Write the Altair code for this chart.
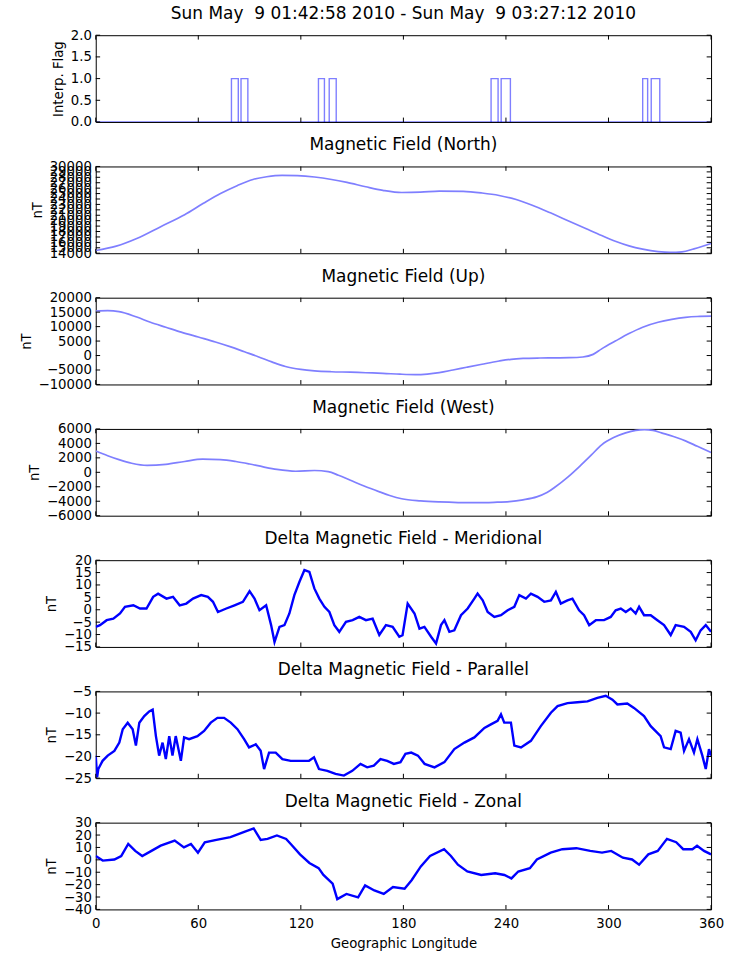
import altair as alt
import pandas as pd

# ---------------------------------------------------------------- data
# Interpolation-flag intervals (longitude where the flag is 1)
flag_start = [79.4, 85.0, 130.3, 136.6, 231.3, 237.2, 320.0, 325.0]
flag_end = [83.4, 89.0, 133.8, 140.7, 235.4, 242.6, 322.9, 330.0]

# Main field, north component (nT)
north_lon = [0, 12, 24, 38, 52, 63, 73, 83, 92, 100, 109, 118, 128, 138, 147,
             158, 168, 179, 190, 201, 215, 226, 236, 246, 255, 266, 277, 287,
             296, 304, 312, 320, 329, 336, 343, 350, 360]
north_nT = [14500, 15300, 16700, 18900, 21100, 23200, 25000, 26500, 27600,
            28100, 28350, 28300, 28050, 27600, 27050, 26250, 25600, 25200,
            25250, 25450, 25400, 25100, 24650, 23900, 22900, 21450, 19900,
            18500, 17250, 16200, 15350, 14750, 14300, 14150, 14250, 14800,
            15800]

# Main field, up component (nT)
up_lon = [0, 7, 13.6, 24, 32, 41, 50, 60, 70, 79, 87, 95, 103, 111, 120, 128,
          138, 149, 158, 168, 178, 187, 194, 201, 209, 217, 226, 236, 243,
          250, 260, 269, 277, 285, 291, 296, 304, 312, 320, 329, 337, 345,
          352, 360]
up_nT = [15400, 15500, 15200, 13300, 11500, 9800, 8100, 6400, 4700, 3000,
         1300, -400, -2200, -3800, -4800, -5300, -5600, -5750, -5950, -6150,
         -6450, -6600, -6400, -5900, -5000, -4050, -3000, -1900, -1300, -1000,
         -850, -800, -750, -500, 400, 2300, 5000, 7600, 9800, 11500, 12500,
         13200, 13500, 13600]

# Main field, west component (nT)
west_lon = [0, 7, 13.6, 21, 30, 41, 52, 62.5, 73, 82, 90, 98, 106, 117, 128,
            136, 142, 149, 157, 166, 172, 179, 190, 201, 212, 223, 233, 242,
            250, 258, 264, 269, 276, 283, 290, 296, 303, 310, 316, 321, 326,
            331, 338, 345, 352, 360]
west_nT = [2950, 2300, 1750, 1250, 950, 1100, 1500, 1820, 1760, 1500, 1150,
           750, 400, 150, 250, 100, -400, -1100, -1900, -2700, -3200, -3650,
           -3950, -4100, -4180, -4200, -4150, -4050, -3800, -3400, -2800, -2000,
           -700, 800, 2400, 3800, 4800, 5450, 5800, 5900, 5800, 5450, 4950,
           4350, 3600, 2750]

# Delta field, meridional (nT)
mer_lon = [0, 2.5, 6.4, 10.3, 14.2, 17.1, 22.0, 25.9, 29.7, 33.6,
           36.5, 41.4, 45.2, 49.1, 53.0, 56.9, 61.7, 65.6, 68.6, 71.5,
           76.4, 81.2, 86.1, 90.0, 92.9, 95.8, 99.7, 102.6, 104.6, 107.5,
           110.4, 113.3, 116.2, 119.2, 122.1, 125.0, 127.9, 130.8, 133.8, 136.7,
           139.6, 142.5, 146.4, 150.3, 154.2, 158.1, 162.0, 165.9, 169.8, 173.7,
           177.6, 179.5, 182.5, 186.5, 189.4, 192.3, 196.2, 199.1, 202.0, 204.0,
           206.9, 209.8, 213.7, 217.6, 221.5, 223.4, 226.4, 229.3, 233.2, 237.1,
           241.0, 244.9, 247.8, 251.7, 254.6, 258.5, 262.4, 266.3, 269.2, 272.1,
           276.0, 278.9, 282.8, 285.7, 288.7, 292.6, 297.4, 301.3, 304.2, 307.2,
           310.1, 313.0, 315.9, 317.9, 320.8, 324.7, 328.6, 332.5, 336.4, 339.3,
           344.2, 348.1, 351.0, 353.9, 356.9, 360.0]
mer_nT = [-6.9, -6.2, -4.2, -3.6, -1.5, 1.2, 1.8, 0.5, 0.5, 5.2,
          6.5, 4.5, 5.2, 1.8, 2.5, 4.5, 5.9, 5.2, 3.2, -0.9,
          0.5, 1.8, 3.2, 7.5, 4.5, -0.2, 1.8, -6.2, -13.0, -6.9,
          -6.2, -1.5, 5.9, 11.3, 16.0, 15.3, 8.6, 4.5, 1.2, -0.9,
          -6.2, -8.9, -4.9, -4.2, -2.9, -4.2, -3.6, -10.2, -6.2, -6.9,
          -10.9, -10.3, 2.5, -1.5, -7.6, -6.9, -10.9, -13.6, -6.2, -4.2,
          -8.9, -8.3, -2.2, 0.5, 4.5, 6.5, 3.8, -0.9, -2.9, -2.2,
          -0.2, 1.2, 5.9, 4.5, 6.5, 5.2, 3.2, 3.8, 7.2, 2.5,
          3.8, 4.5, -0.2, -2.2, -6.2, -4.2, -4.2, -2.9, -0.2, 0.5,
          -0.9, 0.5, -1.5, 1.2, -2.2, -2.2, -4.2, -6.2, -10.2, -6.2,
          -6.9, -8.9, -12.3, -8.3, -6.2, -8.9]

# Delta field, parallel (nT)
par_lon = [0, 0.8, 1.5, 4.0, 7.0, 10.9, 13.8, 15.8, 18.7, 21.6,
           23.5, 25.5, 28.4, 31.3, 33.3, 35.2, 37.1, 39.1, 41.0, 43.0,
           44.9, 46.8, 49.8, 51.7, 54.6, 59.5, 63.4, 67.3, 71.2, 75.1,
           79.0, 82.9, 86.8, 89.7, 93.6, 96.5, 98.5, 101.4, 105.3, 109.2,
           114.1, 119.9, 124.8, 127.7, 130.6, 135.5, 140.3, 145.2, 150.1, 154.9,
           158.8, 162.7, 166.6, 170.5, 174.4, 178.3, 181.2, 184.6, 188.5, 192.4,
           198.2, 204.0, 209.8, 215.7, 221.5, 227.4, 231.2, 235.1, 237.1, 239.0,
           242.9, 244.9, 248.8, 254.6, 260.4, 266.3, 270.2, 276.0, 281.8, 287.7,
           293.5, 298.4, 302.3, 305.2, 311.0, 314.9, 320.8, 324.7, 330.5, 332.5,
           336.4, 339.3, 342.2, 344.2, 347.1, 350.0, 352.0, 354.9, 356.9, 358.8,
           360.0]
par_nT = [-19.8, -24.8, -22.9, -21.0, -19.8, -18.7, -16.8, -13.7, -12.2, -13.7,
          -17.5, -12.2, -10.7, -9.6, -9.2, -15.3, -19.8, -16.8, -20.6, -15.3,
          -19.8, -15.3, -21.0, -15.6, -16.0, -15.3, -14.1, -12.2, -11.1, -11.1,
          -12.2, -13.7, -16.0, -17.9, -17.2, -18.7, -22.9, -19.1, -19.1, -20.6,
          -21.0, -21.0, -21.0, -20.2, -22.9, -23.3, -24.0, -24.4, -23.3, -21.7,
          -22.5, -22.1, -20.6, -21.0, -21.7, -21.3, -19.4, -19.1, -19.8, -21.7,
          -22.5, -21.3, -18.3, -16.8, -15.6, -13.4, -12.6, -11.8, -10.3, -12.2,
          -12.2, -17.5, -17.9, -16.4, -13.0, -9.9, -8.4, -7.7, -7.5, -7.3,
          -6.5, -6.0, -6.9, -8.0, -7.8, -8.8, -10.7, -13.0, -15.3, -17.9,
          -18.3, -14.1, -14.5, -18.7, -16.0, -19.1, -16.0, -19.8, -22.9, -18.3,
          -19.8]

# Delta field, zonal (nT)
zon_lon = [0, 4.1, 10.9, 14.9, 19.0, 23.1, 27.2, 32.6, 38.0, 46.2,
           51.6, 55.7, 59.8, 63.8, 70.6, 78.8, 86.9, 92.4, 96.5, 100.5,
           106.0, 111.4, 114.1, 119.5, 125.0, 130.4, 133.2, 138.6, 141.3, 146.7,
           153.5, 157.6, 163.0, 168.5, 173.9, 180.7, 184.8, 190.2, 195.6, 203.8,
           207.8, 211.9, 217.4, 225.5, 233.7, 239.1, 243.2, 247.2, 254.0, 258.1,
           266.2, 273.0, 281.2, 289.3, 296.2, 301.6, 308.4, 313.8, 317.9, 323.3,
           328.8, 334.2, 339.6, 343.7, 349.1, 351.8, 355.9, 360.0]
zon_nT = [3.1, -0.6, 0.3, 3.1, 12.8, 7.2, 3.1, 7.2, 11.4, 15.6,
          10.0, 12.8, 5.8, 14.2, 16.1, 18.3, 22.5, 25.3, 16.1, 16.9,
          19.7, 16.9, 12.8, 4.4, -2.5, -6.7, -12.2, -19.2, -31.7, -27.5,
          -30.3, -20.6, -24.7, -27.5, -21.9, -23.3, -16.4, -5.3, 3.1, 8.6,
          3.1, -3.9, -9.4, -12.2, -10.8, -12.2, -15.0, -9.4, -6.7, 0.3,
          5.8, 8.6, 9.4, 7.2, 5.8, 7.2, 1.7, 0.3, -3.9, 4.4,
          7.2, 16.9, 14.2, 8.6, 8.6, 11.4, 7.2, 4.4]

lon_ticks = [0, 60, 120, 180, 240, 300, 360]

# ---------------------------------------------------------------- style
W, H = 617, 87
FONT = "DejaVu Sans"
TICK = 4.4
SMOOTH = "#7f7fff"
NOISY = "#0000ff"
xscale = alt.Scale(domain=[0, 360], nice=False, zero=False)


def y_axis(title, ticks, fmt):
    return alt.Axis(values=ticks, format=fmt, title=title, grid=False,
                    domain=False, ticks=False, labelPadding=4.4,
                    labelFont=FONT, labelFontSize=13.3, labelColor="black",
                    labelOverlap=False, labelFlush=False, labelBound=False,
                    titleFont=FONT, titleFontSize=13.3, titleFontWeight="normal",
                    titleColor="black", titlePadding=5)


def x_axis(show):
    if not show:
        return None
    return alt.Axis(values=lon_ticks, format="d", title="Geographic Longitude",
                    grid=False, domain=False, ticks=False, labelPadding=7.5,
                    labelFont=FONT, labelFontSize=13.3, labelColor="black",
                    labelOverlap=False, labelFlush=False,
                    titleFont=FONT, titleFontSize=13.3, titleFontWeight="normal",
                    titleColor="black", titlePadding=6)


def inner_ticks(xax, yscale, yax, yticks):
    """Inward-pointing ticks on all four sides of the frame."""
    xt = pd.DataFrame({"lon": lon_ticks})
    yt = pd.DataFrame({"val": yticks})
    base_x = alt.Chart(xt).mark_rule(color="black", strokeWidth=1)
    base_y = alt.Chart(yt).mark_rule(color="black", strokeWidth=1)
    xenc = alt.X("lon:Q", scale=xscale, axis=xax)
    yenc = alt.Y("val:Q", scale=yscale, axis=yax)
    return [
        base_x.encode(x=xenc, y=alt.value(0), y2=alt.value(TICK)),
        base_x.encode(x=xenc, y=alt.value(H - TICK), y2=alt.value(H)),
        base_y.encode(y=yenc, x=alt.value(0), x2=alt.value(TICK)),
        base_y.encode(y=yenc, x=alt.value(W - TICK), x2=alt.value(W)),
    ]


def title(text):
    return alt.TitleParams(text=text, font=FONT, fontSize=17,
                           fontWeight="normal", color="black", offset=5,
                           anchor="middle")


def series_panel(name, lon, vals, domain, yticks, fmt, color, sw, interp,
                 show_x=False):
    df = pd.DataFrame({"lon": lon, "val": vals})
    yscale = alt.Scale(domain=domain, nice=False, zero=False)
    xax = x_axis(show_x)
    yax = y_axis("nT", yticks, fmt)
    line = alt.Chart(df).mark_line(color=color, strokeWidth=sw,
                                   interpolate=interp, clip=True).encode(
        x=alt.X("lon:Q", scale=xscale, axis=xax),
        y=alt.Y("val:Q", scale=yscale, axis=yax),
    )
    return alt.layer(line, *inner_ticks(xax, yscale, yax, yticks)).properties(
        width=W, height=H, title=title(name))


# ---------------------------------------------------------------- flag panel
rows = [{"seg": "base", "ord": 0, "lon": 0.0, "val": 0.0},
        {"seg": "base", "ord": 1, "lon": 360.0, "val": 0.0}]
for i, (a, b) in enumerate(zip(flag_start, flag_end)):
    for k, (x, y) in enumerate([(a, 0), (a, 1), (b, 1), (b, 0)]):
        rows.append({"seg": f"p{i}", "ord": k, "lon": x, "val": float(y)})
flag_df = pd.DataFrame(rows)
flag_ticks = [0.0, 0.5, 1.0, 1.5, 2.0]
flag_scale = alt.Scale(domain=[0, 2], nice=False, zero=False)
flag_yax = y_axis("Interp. Flag", flag_ticks, ".1f")
flag_line = alt.Chart(flag_df).mark_line(color=NOISY, opacity=0.5,
                                         strokeWidth=1.4, clip=True).encode(
    x=alt.X("lon:Q", scale=xscale, axis=None),
    y=alt.Y("val:Q", scale=flag_scale, axis=flag_yax),
    detail="seg:N",
    order="ord:Q",
)
flag_panel = alt.layer(
    flag_line, *inner_ticks(None, flag_scale, flag_yax, flag_ticks)
).properties(
    width=W, height=H,
    title=title("Sun May\u00a0 9 01:42:58 2010 - Sun May\u00a0 9 03:27:12 2010"))

panels = [
    flag_panel,
    series_panel("Magnetic Field (North)", north_lon, north_nT, [14000, 30000],
                 list(range(14000, 30001, 1000)), "d", SMOOTH, 1.7, "monotone"),
    series_panel("Magnetic Field (Up)", up_lon, up_nT, [-10000, 20000],
                 list(range(-10000, 20001, 5000)), "d", SMOOTH, 1.7, "monotone"),
    series_panel("Magnetic Field (West)", west_lon, west_nT, [-6000, 6000],
                 list(range(-6000, 6001, 2000)), "d", SMOOTH, 1.7, "monotone"),
    series_panel("Delta Magnetic Field - Meridional", mer_lon, mer_nT, [-15, 20],
                 list(range(-15, 21, 5)), "d", NOISY, 2.4, "linear"),
    series_panel("Delta Magnetic Field - Parallel", par_lon, par_nT, [-25, -5],
                 list(range(-25, -4, 5)), "d", NOISY, 2.4, "linear"),
    series_panel("Delta Magnetic Field - Zonal", zon_lon, zon_nT, [-40, 30],
                 list(range(-40, 31, 10)), "d", NOISY, 2.4, "linear",
                 show_x=True),
]

chart = alt.vconcat(*panels, spacing=6.6).properties(
    padding={"left": 18, "top": 3, "right": 5, "bottom": 5},
    background="white",
).configure_view(stroke="black", strokeWidth=1)

chart.save("out.html", embed_options={"renderer": "svg", "actions": False})
